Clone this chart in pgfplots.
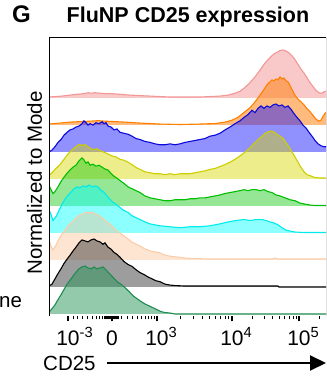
\documentclass[border=0pt]{standalone}
\usepackage{pgfplots}
\usepackage{pgfplotstable}
\pgfplotsset{compat=1.18}
\usepackage{fontspec}
\setmainfont{Liberation Sans}
\usetikzlibrary{arrows.meta}

\definecolor{pinkF}{RGB}{240,120,120}\definecolor{pinkL}{RGB}{242,150,150}
\definecolor{oraF}{RGB}{255,130,20}\definecolor{oraL}{RGB}{255,128,0}
\definecolor{bluF}{RGB}{20,20,255}\definecolor{bluL}{RGB}{10,10,220}
\definecolor{yelF}{RGB}{215,215,0}\definecolor{yelL}{RGB}{205,205,0}
\definecolor{grnF}{RGB}{20,200,20}\definecolor{grnL}{RGB}{0,190,0}
\definecolor{cyaF}{RGB}{0,255,255}\definecolor{cyaL}{RGB}{0,235,235}
\definecolor{peaF}{RGB}{250,190,140}\definecolor{peaL}{RGB}{250,205,170}
\definecolor{gryF}{RGB}{60,60,60}\definecolor{gryL}{RGB}{0,0,0}
\definecolor{sgrF}{RGB}{40,150,90}\definecolor{sgrL}{RGB}{30,140,80}

% x: display channel (biexponential scale), h: % of mode
\pgfplotstableread{
x h
49 2
55 3
62 4
70 6
78 8
84 9
88 11
91 10
95 11
100 10
106 9
112 9
118 8
124 7
130 6
140 5
150 4
160 3
170 2
185 2
200 2
210 3
220 4
228 6
235 10
240 14
245 22
250 32
255 44
260 58
264 70
268 80
271 86
274 92
277 95
280 99
283 100
286 98
289 94
292 88
295 80
298 70
301 60
304 52
307 42
310 32
313 24
316 16
319 11
322 10
324 13
326 14
}\tPink

\pgfplotstableread{
x h
49 2
60 4
70 6
80 7
90 8
98 9
105 8
115 7
125 6
140 4
160 2
180 1
200 2
215 3
225 6
232 10
238 16
244 26
250 36
255 48
260 62
264 74
267 84
270 90
272 94
274 92
276 96
278 94
280 100
282 96
284 98
286 92
288 90
290 82
292 74
295 62
298 54
301 48
304 42
307 34
310 28
313 20
316 12
319 8
321 10
323 18
325 24
326 26
}\tOrange

\pgfplotstableread{
x h
49 0
52 4
55 11
58 20
61 26
64 35
67 41
70 46
73 48
76 52
79 54
82 59
84 65
86 61
88 56
90 59
93 56
96 61
99 59
102 63
104 59
106 61
108 54
111 52
114 46
117 48
120 41
124 39
128 37
132 33
136 28
140 26
145 22
150 20
155 17
160 15
165 15
170 17
175 15
180 17
185 20
190 22
195 24
200 26
205 28
210 33
215 35
220 39
225 46
230 52
235 59
240 65
244 72
248 78
252 87
255 82
258 91
261 96
264 91
267 96
270 93
273 98
276 100
279 96
282 98
285 93
288 96
291 89
294 80
297 72
300 65
303 56
306 50
309 41
312 33
315 24
318 17
321 13
324 11
326 11
}\tBlue

\pgfplotstableread{
x h
49 7
52 13
56 22
60 30
64 41
68 52
72 61
76 67
79 72
82 70
85 72
88 67
91 63
94 61
97 63
100 59
104 56
108 52
112 48
116 46
120 41
124 39
128 35
132 30
136 24
140 20
145 15
150 13
155 11
160 11
165 9
170 11
175 9
180 11
185 11
190 11
195 13
200 15
205 17
210 20
215 22
220 26
225 30
230 35
235 41
240 48
245 56
250 65
254 74
258 82
262 89
265 95
268 98
271 100
274 98
277 93
280 89
283 85
286 76
289 67
292 56
295 46
298 35
301 24
304 15
307 9
310 7
315 3
320 2
326 2
}\tYellow

\pgfplotstableread{
x h
49 43
51 34
53 26
55 30
58 40
61 51
64 60
67 68
70 75
73 81
76 85
79 94
82 100
84 96
86 89
88 92
90 85
93 87
96 83
99 85
102 81
105 77
108 75
111 68
114 62
117 58
120 53
124 47
128 40
132 36
136 32
140 28
145 21
150 17
155 15
160 13
165 11
170 11
175 13
180 13
185 13
190 15
195 15
200 17
205 17
210 19
215 21
220 23
225 26
230 28
235 30
240 32
244 34
248 32
252 34
256 34
260 32
264 34
268 30
272 28
276 23
280 21
285 17
290 13
295 11
300 6
305 4
310 2
315 1
326 1
}\tGreen

\pgfplotstableread{
x h
49 49
51 38
53 26
56 34
59 47
62 60
65 70
68 79
71 85
74 92
77 96
80 94
83 98
86 96
89 100
92 96
95 98
98 96
101 89
104 85
107 77
110 70
113 64
116 60
120 53
124 47
128 43
132 36
136 32
140 28
145 23
150 19
155 17
160 15
170 13
180 11
190 13
200 13
210 15
220 19
228 23
236 26
244 28
250 26
256 28
262 28
266 26
270 23
274 21
278 17
282 11
286 6
290 4
295 2
305 1
326 1
}\tCyan

\pgfplotstableread{
x h
49 42
51 29
53 21
56 31
59 44
62 54
65 62
68 71
71 77
74 83
77 89
80 94
83 96
86 100
89 98
92 100
95 96
98 94
101 89
104 85
107 79
110 75
113 69
116 62
120 56
124 50
128 44
132 37
136 33
140 29
145 23
150 19
155 17
160 15
165 10
170 8
178 6
185 4
195 3
210 2
230 2
260 2
272 2
275 4
278 2
300 2
326 2
}\tPeach

\pgfplotstableread{
x h
49 2
52 6
55 17
58 28
61 38
64 49
67 58
70 66
73 75
76 83
79 92
82 98
85 96
88 94
91 98
94 100
97 96
100 94
103 89
105 92
108 83
111 79
114 72
117 68
120 62
124 53
128 47
132 43
136 36
140 30
144 26
148 21
152 17
156 13
160 11
165 6
170 4
175 3
185 2
278 2
279 0
326 0
}\tGray

\pgfplotstableread{
x h
49 4
52 11
55 19
58 30
61 40
64 51
67 62
70 70
73 79
76 87
79 94
82 98
85 100
88 96
91 94
94 98
97 94
100 96
103 98
106 92
109 85
112 79
115 72
118 66
121 62
125 55
129 47
133 38
137 32
141 26
145 21
149 17
153 13
157 9
161 5
165 3
170 2
175 0
326 0
}\tSeaGreen

\newcommand{\ridge}[4]{%
  \addplot[draw=none, fill=#2, fill opacity=#4] table[x=x, y expr=\thisrow{h}*0.48+#3] {#1} |- (axis cs:49,#3) -- cycle;
}
\newcommand{\ridgeline}[3]{%
  \addplot[draw=#2, line width=1.1pt, mark=none, sharp plot] table[x=x, y expr=\thisrow{h}*0.48+#3] {#1};
}

\begin{document}
\begin{tikzpicture}
\useasboundingbox (0,0) rectangle (327pt,381pt);
\begin{axis}[
  at={(49pt,65pt)}, anchor=south west,
  scale only axis, width=277pt, height=278pt,
  xmin=49, xmax=326, ymin=0, ymax=278,
  axis line style={draw=none},
  ytick=\empty,
  xtick pos=bottom,
  tick align=outside,
  xtick={68,112,157,232,299},
  xticklabels={10\rlap{\textsuperscript{-3}},0,10\rlap{\textsuperscript{3}},10\rlap{\textsuperscript{4}},10\rlap{\textsuperscript{5}}},
  minor xtick={73,77,82,87,92,96,99,102,104,105,106,107,108,109,110,111,113,114,115,116,117,118,121,127,132,137,141,145,148,151,154,180,193,202,209,215,220,225,228,252,264,272,279,284,289,293,296,319},
  major tick length=5.5pt, minor tick length=3.5pt,
  major tick style={line width=1.3pt, black},
  minor tick style={line width=0.8pt, black},
  tick label style={font=\fontsize{21}{24}\selectfont},
  xticklabel style={anchor=base, yshift=-24pt},
]
\ridge{\tPink}{pinkF}{218}{0.4}
\ridgeline{\tPink}{pinkL}{218}
\ridge{\tOrange}{oraF}{191}{0.55}
\ridgeline{\tOrange}{oraL}{191}
\ridge{\tBlue}{bluF}{164}{0.47}
\ridgeline{\tBlue}{bluL}{164}
\ridge{\tYellow}{yelF}{137}{0.45}
\ridgeline{\tYellow}{yelL}{137}
\ridge{\tGreen}{grnF}{110}{0.45}
\ridgeline{\tGreen}{grnL}{110}
\ridge{\tCyan}{cyaF}{83}{0.45}
\ridgeline{\tCyan}{cyaL}{83}
\ridge{\tPeach}{peaF}{56}{0.4}
\ridgeline{\tPeach}{peaL}{56}
\ridge{\tGray}{gryF}{29}{0.5}
\ridgeline{\tGray}{gryL}{29}
\ridge{\tSeaGreen}{sgrF}{2}{0.5}
\ridgeline{\tSeaGreen}{sgrL}{2}
\draw[line width=1pt, black] (rel axis cs:0,0) -- (rel axis cs:0,1) -- (rel axis cs:1,1) -- (rel axis cs:1,0);
\end{axis}
\node[anchor=base west, inner sep=0pt, font=\fontsize{24}{27}\selectfont\bfseries] at (12pt,358.3pt) {G};
\node[anchor=base, font=\fontsize{21.5}{24}\selectfont\bfseries] at (188pt,358.3pt) {FluNP CD25 expression};
\node[rotate=90, anchor=center, font=\fontsize{20.5}{24}\selectfont] at (34.5pt,198pt) {Normalized to Mode};
\node[anchor=base west, inner sep=0pt, font=\fontsize{20.5}{24}\selectfont] at (43pt,11pt) {CD25};
\draw[line width=2pt, -{Triangle[length=16pt,width=15pt]}] (107pt,18pt) -- (326pt,18pt);
\node[anchor=base west, inner sep=0pt, font=\fontsize{20.5}{24}\selectfont] at (-1pt,73pt) {ne};
\end{tikzpicture}
\end{document}
